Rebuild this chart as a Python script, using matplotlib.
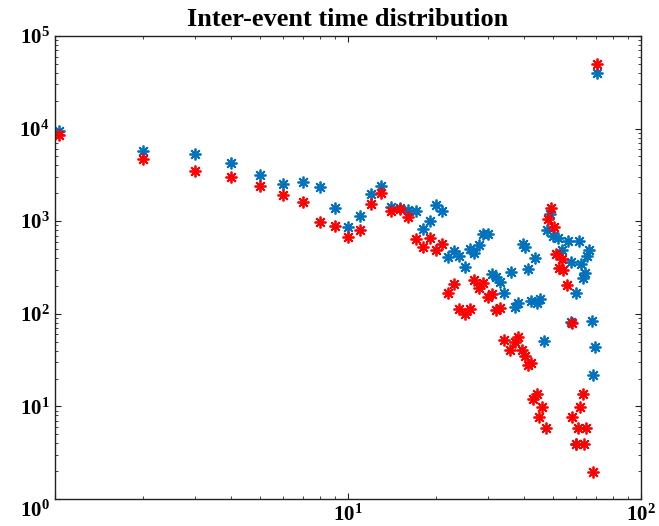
import matplotlib
matplotlib.use("Agg")
import matplotlib.pyplot as plt
from matplotlib.ticker import FixedLocator, FuncFormatter, LogLocator, NullFormatter
import math

plt.rcParams['font.family'] = ['Liberation Serif', 'DejaVu Serif']
plt.rcParams['mathtext.fontset'] = 'custom'
plt.rcParams['mathtext.rm'] = 'Liberation Serif:bold'
plt.rcParams['mathtext.bf'] = 'Liberation Serif:bold'
plt.rcParams['mathtext.it'] = 'Liberation Serif:bold'

title = "Inter-event time distribution"

blue_x = [1.03, 2, 3, 4, 5, 6, 7, 8, 9, 10, 11, 12, 13, 14, 15, 16, 17, 18, 19, 20,
          21, 22, 23, 24, 25, 26, 27, 28, 29, 30, 31, 32, 33, 34, 36, 37.2, 38,
          39.6, 40.3, 41, 42, 43.4, 44.3, 45.2, 46.7, 47.6, 48.9, 50.2, 52, 53.6,
          56.5, 57.7, 57.9, 60, 59.8, 61.4, 62.4, 63.5, 64.2, 65.3, 66.3, 67.9,
          68.5, 69.7, 70.6]
blue_y = [9490, 5770, 5320, 4220, 3130, 2520, 2630, 2360, 1380, 859, 1130, 1950, 2420,
          1435, 1377, 1320, 1290, 824, 998, 1496, 1290, 410, 473, 421, 323, 501, 450,
          553, 727, 727, 270, 252, 222, 169, 283, 119, 132, 571, 531, 305, 138, 397,
          130, 143, 51, 804, 1186, 692, 663, 489, 616, 365, 82, 169, 3.9, 616, 345,
          245, 274, 421, 489, 84, 21.7, 43.5, 40200]

red_x = [1.03, 2, 3, 4, 5, 6, 7, 8, 9, 10, 11, 12, 13, 14, 15, 16, 17, 18, 19, 20,
         21, 22, 23, 24, 25, 26, 27, 28, 29, 30, 31, 32, 33, 34.2, 35.7, 37.2, 38,
         39.3, 40.3, 41.2, 42.2, 42.8, 44.3, 45, 46.1, 47.5, 48.2, 49.2, 50.3, 51.2,
         52.3, 53.6, 54.3, 56.1, 58, 58, 60, 61, 61.7, 63.5, 64, 65, 68.5, 70.6]
red_y = [8520, 4730, 3510, 2980, 2420, 1920, 1625, 988, 887, 670, 804, 1520, 2000,
         1290, 1343, 1120, 637, 531, 653, 489, 567, 169, 208, 114, 99.5, 112, 232,
         188, 217, 153, 164, 110, 115, 52, 41, 50, 56, 41, 35, 28, 29.6, 12, 13.5,
         7.7, 9.8, 5.9, 1056, 1377, 859, 442, 310, 391, 297, 205, 80, 7.7, 3.9, 5.9,
         9.8, 13.5, 3.9, 5.9, 1.94, 49400]

fig = plt.figure(figsize=(6.59, 5.26), dpi=100)
ax = fig.add_axes([55/659, 1 - 499/526, (641 - 55)/659, (499 - 36)/526])

ast = (8, 2, 0)
ax.plot(blue_x, blue_y, linestyle='none', marker=ast, markersize=8.5,
        markeredgewidth=1.3, color='#0072BD')
ax.plot(red_x, red_y, linestyle='none', marker=ast, markersize=8.5,
        markeredgewidth=1.3, color='#FF0000')

ax.set_xscale('log')
ax.set_yscale('log')
ax.set_xlim(1, 100)
ax.set_ylim(1, 1e5)

ax.xaxis.set_major_locator(FixedLocator([1, 10, 100]))
ax.yaxis.set_major_locator(FixedLocator([1, 10, 100, 1e3, 1e4, 1e5]))
ax.xaxis.set_minor_locator(LogLocator(base=10, subs=range(2, 10)))
ax.yaxis.set_minor_locator(LogLocator(base=10, subs=range(2, 10)))
ax.xaxis.set_minor_formatter(NullFormatter())
ax.yaxis.set_minor_formatter(NullFormatter())

def fmt(v, pos):
    e = int(round(math.log10(v)))
    if e == 0:
        return ''
    return r'$\mathbf{10^{%d}}$' % e

ax.xaxis.set_major_formatter(FuncFormatter(fmt))
ax.yaxis.set_major_formatter(FuncFormatter(fmt))
ax.annotate(r'$\mathbf{10^{0}}$', xy=(0, 1), xycoords=('axes fraction', 'data'),
            xytext=(-5, -12), textcoords='offset pixels', ha='right', va='center',
            fontsize=15)

ax.tick_params(which='both', direction='in', top=True, right=True, labelsize=15,
               color='#222222')
ax.tick_params(which='major', length=4.5, width=0.8, pad=4)
ax.tick_params(which='minor', length=2.2, width=0.6)
for s in ax.spines.values():
    s.set_linewidth(1.0)
    s.set_color('#222222')

ax.set_title(title, fontsize=19, fontweight='bold', pad=7)

fig.savefig('out.png', dpi=100, facecolor='white')
